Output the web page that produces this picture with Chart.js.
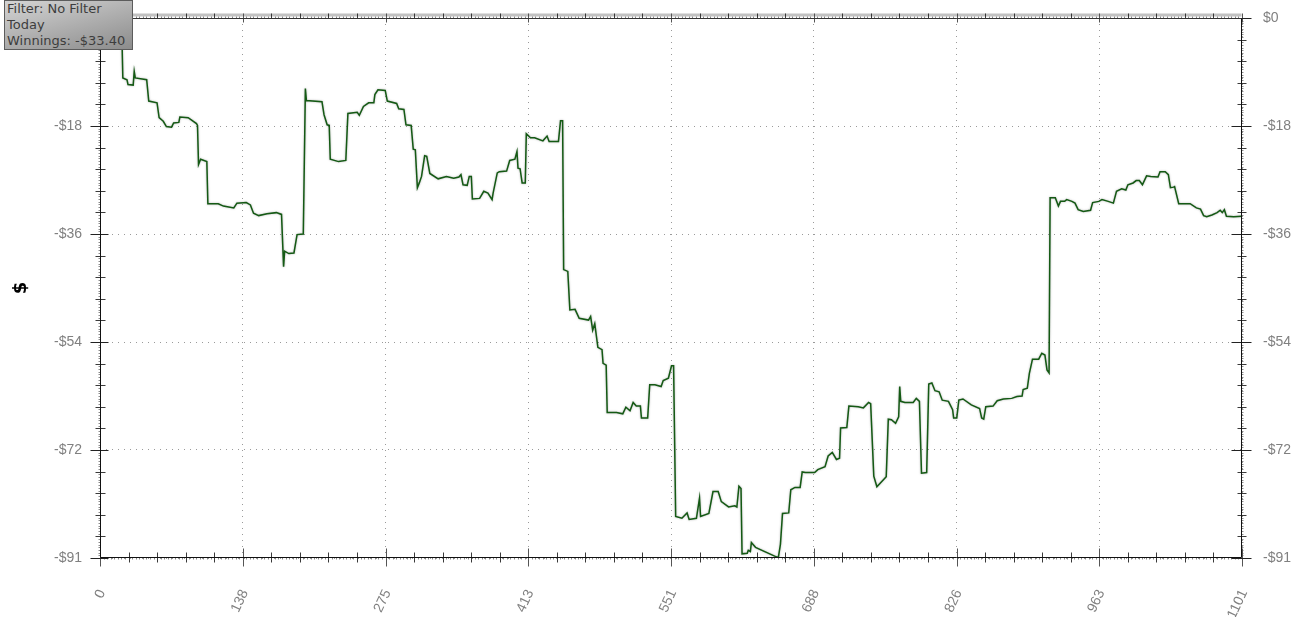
<!DOCTYPE html>
<html>
<head>
<meta charset="utf-8">
<script src="https://cdn.jsdelivr.net/npm/chart.js@4.4.1/dist/chart.umd.min.js"></script>
<style>
  html, body { margin: 0; padding: 0; background: #fff; }
  #wrap { position: relative; width: 1298px; height: 617px; }
  #info {
    position: absolute; left: 4px; top: 0; width: 129px; height: 50px;
    box-sizing: border-box; border: 1px solid #5c5c5c;
    background: linear-gradient(165deg, #d4d4d4 0%, #acacac 55%, #8c8c8c 100%);
    font: 13px "DejaVu Sans", Verdana, sans-serif; color: #3d3d3d;
    line-height: 16px; padding: 0 0 0 2px; white-space: nowrap; overflow: hidden;
  }
</style>
</head>
<body>
<div id="wrap">
  <canvas id="winnings"></canvas>
  <div id="info"></div>
</div>
<script>
// hand number / cumulative winnings ($)
const hands = [
  0, 21, 22, 26, 27, 32, 33, 34, 45, 47,
  55, 57, 61, 64, 69, 71, 76, 77, 85, 93,
  94, 95, 97, 103, 104, 114, 119, 129, 132, 141,
  145, 148, 153, 161, 170, 175, 177, 178, 182, 187,
  190, 196, 198, 199, 214, 216, 219, 221, 222, 230,
  237, 239, 248, 250, 254, 259, 264, 265, 268, 275,
  277, 286, 288, 293, 295, 300, 302, 304, 306, 308,
  310, 313, 315, 318, 326, 334, 341, 346, 348, 350,
  354, 356, 358, 359, 366, 370, 374, 378, 379, 383,
  385, 392, 395, 400, 402, 403, 405, 407, 410, 411,
  415, 419, 427, 431, 433, 442, 444, 446, 447, 451,
  453, 458, 462, 471, 473, 475, 477, 480, 484, 485,
  488, 489, 498, 504, 507, 511, 514, 517, 521, 522,
  528, 530, 535, 541, 543, 548, 551, 553, 555, 561,
  566, 568, 575, 578, 579, 587, 591, 596, 599, 606,
  612, 614, 616, 618, 619, 624, 625, 627, 628, 632,
  643, 652, 654, 656, 658, 664, 666, 670, 675, 677,
  680, 689, 692, 699, 702, 706, 710, 713, 714, 720,
  722, 731, 736, 741, 743, 746, 749, 758, 760, 763,
  767, 770, 771, 772, 776, 784, 787, 790, 792, 797,
  799, 802, 805, 809, 812, 818, 822, 823, 826, 828,
  832, 840, 848, 850, 852, 854, 861, 865, 871, 879,
  884, 889, 890, 894, 896, 899, 905, 908, 911, 913,
  915, 916, 921, 924, 926, 930, 932, 937, 940, 943,
  948, 955, 957, 963, 966, 972, 977, 980, 985, 989,
  991, 996, 999, 1002, 1005, 1009, 1013, 1020, 1022, 1027,
  1030, 1032, 1035, 1036, 1040, 1051, 1057, 1061, 1064, 1067,
  1072, 1077, 1080, 1082, 1084, 1086, 1093, 1101
];

const winnings = [
  0, -2, -10.1, -10.4, -11.2, -11.3, -9.0, -10.1, -10.4, -14.0,
  -14.3, -16.8, -17.4, -18.3, -18.4, -17.7, -17.6, -16.7, -16.8, -17.8,
  -18.1, -24.7, -23.8, -24.2, -31.3, -31.3, -31.7, -32.0, -31.2, -31.1,
  -31.5, -32.9, -33.3, -33.0, -32.8, -33.1, -41.9, -39.3, -39.7, -39.6,
  -36.5, -36.4, -11.9, -13.9, -14.1, -16.3, -18.0, -18.1, -23.8, -24.2,
  -24.0, -16.1, -15.9, -16.4, -14.9, -14.3, -14.3, -12.9, -12.1, -12.2,
  -14.0, -14.4, -15.3, -15.4, -18.0, -18.1, -22.1, -22.2, -28.6, -27.7,
  -26.7, -23.2, -23.3, -26.2, -27.1, -26.7, -27.0, -26.8, -26.4, -28.1,
  -28.2, -26.7, -26.7, -30.5, -30.4, -29.2, -29.5, -30.6, -29.5, -26.1,
  -25.9, -25.8, -24.0, -23.8, -22.5, -25.3, -25.4, -27.8, -27.8, -19.5,
  -20.2, -20.2, -20.7, -19.9, -20.8, -20.8, -17.3, -17.3, -42.4, -42.7,
  -49.2, -49.1, -50.6, -50.9, -50.3, -52.6, -51.5, -55.5, -55.9, -58.2,
  -58.5, -66.5, -66.5, -66.7, -65.6, -66.2, -64.8, -65.4, -65.4, -67.4,
  -67.4, -61.8, -61.8, -62.1, -61.1, -60.7, -58.6, -58.6, -84.0, -84.3,
  -83.4, -84.5, -84.3, -80.9, -84.0, -83.5, -79.8, -79.8, -81.5, -82.4,
  -82.2, -82.4, -78.9, -79.3, -90.3, -90.2, -89.7, -89.9, -88.4, -89.2,
  -90.1, -90.8, -90.9, -88.7, -83.5, -83.4, -79.5, -79.1, -79.1, -76.5,
  -76.6, -76.6, -76.1, -75.6, -73.8, -73.2, -74.4, -74.2, -69.1, -69.0,
  -65.4, -65.5, -65.7, -64.8, -65.0, -77.2, -79.0, -77.3, -67.6, -67.7,
  -68.3, -67.2, -62.1, -64.6, -64.8, -64.8, -64.1, -64.6, -76.7, -76.6,
  -61.7, -61.5, -62.8, -63.0, -64.4, -64.6, -66.0, -67.4, -67.4, -64.4,
  -64.2, -65.2, -65.8, -67.4, -67.6, -65.5, -65.4, -64.5, -64.2, -64.1,
  -63.8, -63.7, -62.6, -62.4, -59.9, -57.5, -57.5, -56.5, -56.8, -59.3,
  -59.8, -30.3, -30.3, -31.7, -30.9, -30.9, -30.6, -30.9, -31.2, -32.3,
  -32.6, -32.4, -31.1, -30.9, -30.6, -30.9, -31.2, -29.2, -28.8, -29.0,
  -28.1, -27.8, -27.4, -27.4, -28.1, -26.6, -26.7, -26.8, -25.9, -25.9,
  -26.4, -28.6, -28.5, -28.4, -31.3, -31.3, -32.0, -32.2, -33.3, -33.5,
  -33.2, -32.8, -32.4, -32.8, -32.3, -33.4, -33.5, -33.4
];

// axis ticks
const xTickLabels = ["0", "138", "275", "413", "551", "688", "826", "963", "1101"];
const yTickLabels = ["-$91", "-$72", "-$54", "-$36", "-$18", "$0"];
const xMin = 0, xMax = 1101;
const yMin = -91, yMax = 0;

const infoLines = ["Filter: No Filter", "Today"];

// info box (top left)
const last = winnings[winnings.length - 1];
const winText = "Winnings: " + (last < 0 ? "-$" : "$") + Math.abs(last).toFixed(2);
document.getElementById("info").innerHTML = infoLines.concat([winText]).join("<br>");

const tickFont = { family: '"Liberation Sans", Arial, sans-serif', size: 14 };
const tickColor = "#808080";

function setXTicks(scale) {
  const n = xTickLabels.length - 1;
  scale.ticks = xTickLabels.map((l, i) => ({ value: xMin + (i * (xMax - xMin)) / n }));
}
function setYTicks(scale) {
  const n = yTickLabels.length - 1;
  scale.ticks = yTickLabels.map((l, i) => ({ value: yMin + (i * (yMax - yMin)) / n }));
}
// fixed axis sizes, no extra padding for the end labels
function fitY(width) {
  return (s) => {
    s.width = width;
    s.paddingTop = 0;
    s.paddingBottom = 0;
  };
}

// positions of major / minor / tiny ticks along one scale
function tickPixels(scale) {
  const vals = scale.ticks.map((t) => t.value);
  const major = [], minor = [], tiny = [];
  for (let i = 0; i < vals.length; i++) {
    major.push(scale.getPixelForValue(vals[i]));
    if (i === vals.length - 1) break;
    const step = (vals[i + 1] - vals[i]) / 5;
    for (let j = 0; j < 5; j++) {
      const v0 = vals[i] + j * step;
      if (j > 0) minor.push(scale.getPixelForValue(v0));
      for (let k = 1; k < 8; k++) tiny.push(scale.getPixelForValue(v0 + (k * step) / 8));
    }
  }
  return { major, minor, tiny };
}

// draws the framed axes with ruler-like ticks
const rulerAxes = {
  id: "rulerAxes",
  afterDraw(chart) {
    const { ctx, chartArea: a, scales } = chart;
    const xp = tickPixels(scales.x);
    const yp = tickPixels(scales.y);
    const seg = (x1, y1, x2, y2) => {
      ctx.beginPath();
      ctx.moveTo(x1, y1);
      ctx.lineTo(x2, y2);
      ctx.stroke();
    };
    const L = Math.round(a.left) + 0.5, R = Math.round(a.right) - 0.5;
    const T = Math.round(a.top) + 0.5, B = Math.round(a.bottom) - 0.5;
    ctx.save();
    ctx.lineWidth = 1;

    // light band on top
    ctx.fillStyle = "#c2c2c2";
    ctx.fillRect(L, T - 5, R - L, 3);

    // tiny ticks
    ctx.strokeStyle = "#8a8a8a";
    xp.tiny.forEach((p) => { p = Math.round(p) + 0.5; seg(p, B, p, B + 2); seg(p, T, p, T - 2); });
    yp.tiny.forEach((p) => { p = Math.round(p) + 0.5; seg(L - 2, p, L, p); seg(R, p, R + 2, p); });

    // minor ticks
    ctx.strokeStyle = "#3a3a3a";
    xp.minor.forEach((p) => { p = Math.round(p) + 0.5; seg(p, B - 5, p, B + 5); seg(p, T - 5, p, T); });
    yp.minor.forEach((p) => { p = Math.round(p) + 0.5; seg(L - 5, p, L + 5, p); seg(R - 4, p, R + 5, p); });

    // major ticks
    ctx.strokeStyle = "#555";
    xp.major.forEach((p) => { p = Math.round(p) + 0.5; seg(p, B - 9, p, B + 9); seg(p, T - 5, p, T + 4); });
    ctx.strokeStyle = "#222";
    yp.major.forEach((p) => { p = Math.round(p) + 0.5; seg(L - 10, p, L + 8, p); seg(R - 10, p, R + 10, p); });

    // frame
    ctx.strokeStyle = "#111";
    seg(L, T, L, B);
    seg(R, T, R, B);
    seg(L, B, R, B);
    ctx.strokeStyle = "#333";
    seg(L, T, R, T);
    ctx.restore();
  },
};

// soft halo under the line
const lineHalo = {
  id: "lineHalo",
  beforeDatasetsDraw(chart) {
    chart.ctx.save();
    chart.ctx.shadowColor = "rgba(90, 90, 90, 0.5)";
    chart.ctx.shadowBlur = 2;
  },
  afterDatasetsDraw(chart) {
    chart.ctx.restore();
  },
};

const ctx = document.getElementById("winnings").getContext("2d");

new Chart(ctx, {
  type: "line",
  data: {
    datasets: [
      {
        label: "Winnings",
        data: hands.map((h, i) => ({ x: h, y: winnings[i] })),
        borderColor: "#145a14",
        borderWidth: 1.5,
        pointRadius: 0,
        tension: 0,
        fill: false,
      },
    ],
  },
  options: {
    responsive: true,
    maintainAspectRatio: false,
    animation: false,
    layout: { padding: { top: 18, left: 0, right: 0, bottom: 0 } },
    plugins: {
      legend: { display: false },
      tooltip: { enabled: false },
    },
    scales: {
      x: {
        type: "linear",
        min: xMin,
        max: xMax,
        afterBuildTicks: setXTicks,
        afterFit: (s) => { s.height = 59; },
        grid: { color: "#9a9a9a", drawTicks: false },
        border: { display: false, dash: [1, 5] },
        ticks: {
          autoSkip: false,
          minRotation: 65,
          maxRotation: 65,
          padding: 29,
          labelOffset: 2,
          font: tickFont,
          color: tickColor,
          callback: (v, i) => xTickLabels[i],
        },
      },
      y: {
        type: "linear",
        position: "left",
        min: yMin,
        max: yMax,
        afterBuildTicks: setYTicks,
        afterFit: fitY(100),
        grid: { color: "#9a9a9a", drawTicks: false },
        border: { display: false, dash: [1, 5] },
        ticks: {
          padding: 18,
          font: tickFont,
          color: tickColor,
          callback: (v, i) => yTickLabels[i],
        },
        title: {
          display: true,
          text: "$",
          color: "#000",
          font: { family: '"DejaVu Sans", Verdana, sans-serif', size: 18, weight: "bold" },
          padding: { top: 11, bottom: 0 },
        },
      },
      y2: {
        type: "linear",
        position: "right",
        min: yMin,
        max: yMax,
        afterBuildTicks: setYTicks,
        afterFit: fitY(56),
        grid: { display: false, drawTicks: false },
        border: { display: false },
        ticks: {
          padding: 21,
          font: tickFont,
          color: tickColor,
          callback: (v, i) => yTickLabels[i],
        },
      },
    },
  },
  plugins: [rulerAxes, lineHalo],
});
</script>
</body>
</html>
